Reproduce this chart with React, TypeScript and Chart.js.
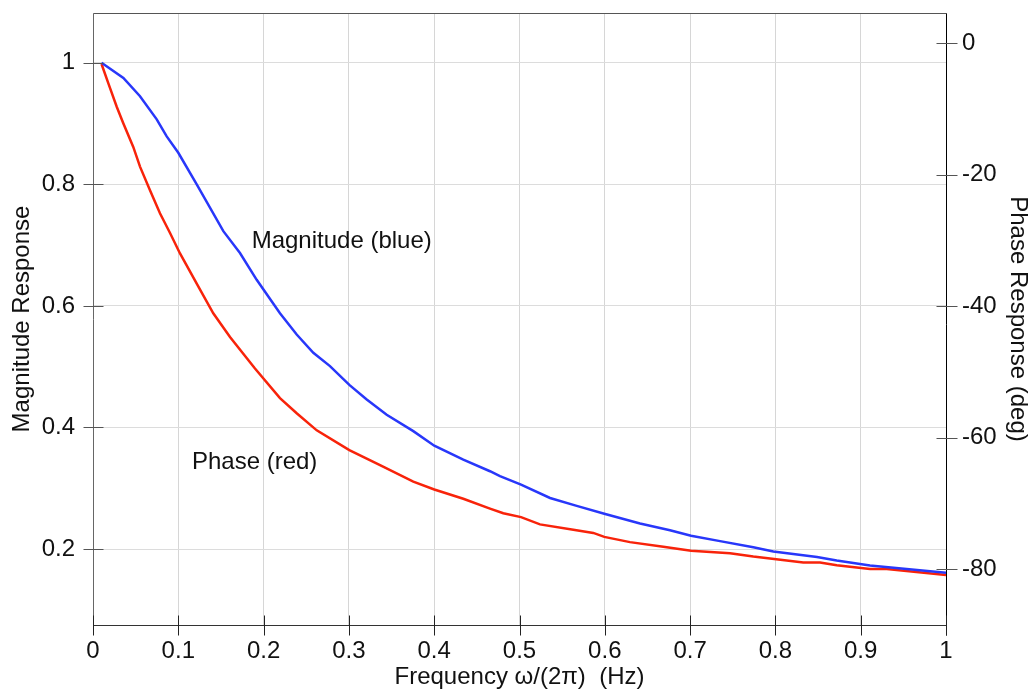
import React, { useEffect, useRef } from "react";
import { Chart, registerables } from "chart.js";

Chart.register(...registerables);

// Magnitude response (left axis)
const magFreq = [0.01, 0.0356, 0.0551, 0.0747, 0.0864, 0.1, 0.1216, 0.1528, 0.1723, 0.1919, 0.2192, 0.2388, 0.2583, 0.2778, 0.3005, 0.3209, 0.3443, 0.3755, 0.4001, 0.4341, 0.4654, 0.4771, 0.5018, 0.5358, 0.5671, 0.5994, 0.6413, 0.6764, 0.7011, 0.7351, 0.7741, 0.7976, 0.8488, 0.8719, 0.9109, 1.0];
const magValues = [1.0, 0.975, 0.945, 0.907, 0.879, 0.852, 0.8, 0.723, 0.687, 0.643, 0.588, 0.553, 0.523, 0.501, 0.47, 0.446, 0.421, 0.394, 0.37, 0.347, 0.328, 0.32, 0.306, 0.284, 0.271, 0.258, 0.242, 0.231, 0.222, 0.213, 0.203, 0.196, 0.187, 0.181, 0.173, 0.161];

// Phase response in degrees (right axis)
const phaseFreq = [0.01, 0.0179, 0.0278, 0.0355, 0.0472, 0.0551, 0.0668, 0.0785, 0.0903, 0.102, 0.1216, 0.141, 0.1606, 0.1899, 0.2192, 0.2388, 0.2623, 0.3005, 0.3365, 0.3755, 0.4001, 0.4341, 0.4654, 0.481, 0.5018, 0.524, 0.5631, 0.5865, 0.5994, 0.6295, 0.6686, 0.7011, 0.7468, 0.7741, 0.8327, 0.8523, 0.8719, 0.9109, 0.9305, 1.0];
const phaseValues = [-3.2, -6.1, -9.7, -12.2, -15.8, -18.8, -22.4, -25.9, -28.9, -32.0, -36.6, -41.1, -44.7, -49.5, -54.0, -56.3, -58.9, -61.9, -64.2, -66.7, -67.9, -69.3, -70.8, -71.5, -72.1, -73.2, -74.0, -74.5, -75.1, -75.9, -76.6, -77.2, -77.6, -78.1, -79.0, -79.0, -79.4, -80.0, -80.0, -80.9];

const xTickStep = 0.1;
const magTickStep = 0.2;
const phaseTickStep = 20;

const xTitle = "Frequency \u03c9/(2\u03c0)  (Hz)";
const leftTitle = "Magnitude Response";
const rightTitle = "Phase Response (deg)";
const magLabel = "Magnitude (blue)";
const phaseLabel = "Phase (red)";

const FONT = "'Liberation Sans', Arial, Helvetica, sans-serif";
const FS = 24;

const fmt = (v: number) => {
  const r = Math.round(v * 10) / 10;
  return String(r);
};

const framePlugin = {
  id: "frame",
  afterDatasetsDraw(chart: any) {
    const ctx = chart.ctx;
    const y = chart.scales.y;
    ctx.save();
    ctx.font = `${FS}px ${FONT}`;
    ctx.fillStyle = "#111";
    ctx.textBaseline = "middle";
    ctx.textAlign = "left";
    ctx.fillText(magLabel, chart.scales.x.getPixelForValue(0.186), y.getPixelForValue(0.706));
    ctx.fillText(phaseLabel, chart.scales.x.getPixelForValue(0.116), y.getPixelForValue(0.342));
    ctx.restore();
  },
  afterDraw(chart: any) {
    const ctx = chart.ctx;
    const { left, right, top, bottom } = chart.chartArea;
    const L = Math.round(left) + 0.5;
    const R = Math.round(right) + 0.5;
    const T = Math.round(top) + 0.5;
    const B = Math.round(bottom) + 0.5;
    ctx.save();
    ctx.lineWidth = 1;
    const line = (x1: number, y1: number, x2: number, y2: number, c: string) => {
      ctx.strokeStyle = c;
      ctx.beginPath();
      ctx.moveTo(x1, y1);
      ctx.lineTo(x2, y2);
      ctx.stroke();
    };
    // frame
    line(L, T, R, T, "#555");
    line(L, T, L, B, "#666");
    line(L, B, R, B, "#333");
    line(R, T, R, B + 10, "#000");
    // ticks
    chart.scales.y.ticks.forEach((t: any) => {
      const p = Math.round(chart.scales.y.getPixelForValue(t.value)) + 0.5;
      line(L - 10, p, L + 10, p, "#555");
    });
    chart.scales.y1.ticks.forEach((t: any) => {
      const p = Math.round(chart.scales.y1.getPixelForValue(t.value)) + 0.5;
      line(R - 10, p, R + 11, p, "#555");
    });
    chart.scales.x.ticks.forEach((t: any) => {
      const p = Math.round(chart.scales.x.getPixelForValue(t.value)) + 0.5;
      line(p, B - 10, p, B + 10, "#222");
    });
    ctx.restore();
  },
};

export default function App() {
  const ref = useRef<HTMLCanvasElement>(null);

  useEffect(() => {
    if (!ref.current) return;
    const chart = new Chart(ref.current, {
      type: "line",
      data: {
        datasets: [
          {
            label: "Magnitude",
            data: magFreq.map((f, i) => ({ x: f, y: magValues[i] })),
            borderColor: "rgb(40,55,250)",
            borderWidth: 2.5,
            pointRadius: 0,
            tension: 0,
            yAxisID: "y",
          },
          {
            label: "Phase",
            data: phaseFreq.map((f, i) => ({ x: f, y: phaseValues[i] })),
            borderColor: "rgb(248,35,10)",
            borderWidth: 2.5,
            pointRadius: 0,
            tension: 0,
            yAxisID: "y1",
          },
        ],
      },
      options: {
        animation: false,
        responsive: false,
        devicePixelRatio: 1,
        layout: { padding: { top: 13, left: 0, right: 0, bottom: 0 } },
        plugins: { legend: { display: false }, tooltip: { enabled: false } },
        scales: {
          x: {
            type: "linear",
            min: 0,
            max: 1,
            afterFit: (s: any) => { s.height = 67; s.paddingLeft = 0; s.paddingRight = 0; },
            border: { display: false },
            grid: { color: "#d6d6d6", lineWidth: 1, drawTicks: false },
            ticks: {
              stepSize: xTickStep,
              padding: 12,
              color: "#111",
              font: { family: FONT, size: FS },
              callback: (v: any) => fmt(Number(v)),
              maxRotation: 0,
              autoSkip: false,
            },
            title: {
              display: true,
              text: xTitle,
              color: "#111",
              font: { family: FONT, size: FS },
              padding: { top: 1, bottom: 0 },
            },
          },
          y: {
            type: "linear",
            position: "left",
            min: 0.075,
            max: 1.082,
            afterFit: (s: any) => { s.width = 93; s.paddingTop = 0; s.paddingBottom = 0; },
            border: { display: false },
            grid: { color: "#dcdcdc", lineWidth: 1, drawTicks: false },
            ticks: {
              stepSize: magTickStep,
              includeBounds: false,
              padding: 18,
              color: "#111",
              font: { family: FONT, size: FS },
              callback: (v: any) => fmt(Number(v)),
            },
            title: {
              display: true,
              text: leftTitle,
              color: "#111",
              font: { family: FONT, size: FS },
              padding: { top: 8, bottom: 0 },
            },
          },
          y1: {
            type: "linear",
            position: "right",
            min: -88.5,
            max: 4.56,
            afterFit: (s: any) => { s.width = 86; s.paddingTop = 0; s.paddingBottom = 0; },
            border: { display: false },
            grid: { display: false, drawTicks: false },
            ticks: {
              stepSize: phaseTickStep,
              includeBounds: false,
              padding: 16,
              color: "#111",
              font: { family: FONT, size: FS },
            },
            title: {
              display: true,
              text: rightTitle,
              color: "#111",
              font: { family: FONT, size: FS },
              padding: { top: 0, bottom: 0 },
            },
          },
        },
      },
      plugins: [framePlugin],
    } as any);
    return () => chart.destroy();
  }, []);

  return (
    <div style={{ position: "fixed", left: 0, top: 0, width: 1032, height: 692, background: "#fff" }}>
      <canvas ref={ref} width={1032} height={692} style={{ width: 1032, height: 692, display: "block" }} />
    </div>
  );
}
